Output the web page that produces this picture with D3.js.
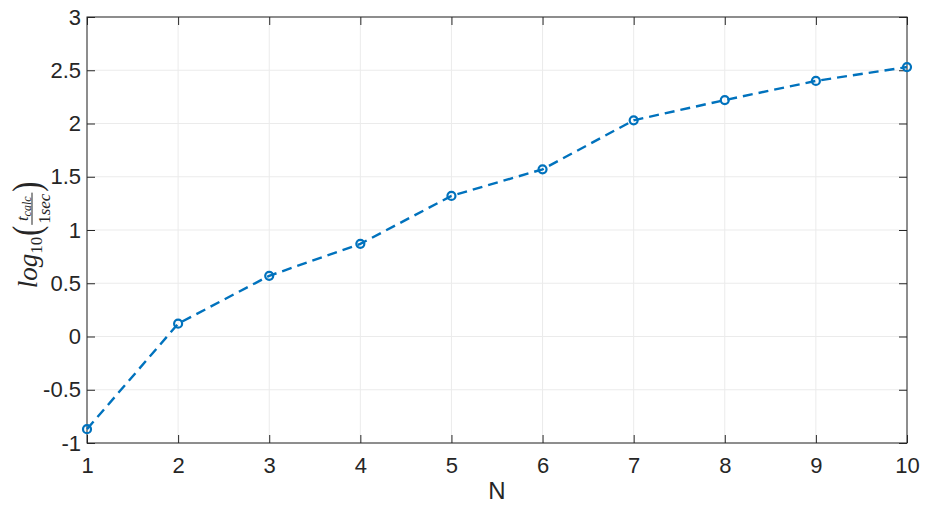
<!DOCTYPE html>
<html><head><meta charset="utf-8">
<script src="https://cdn.jsdelivr.net/npm/d3@7"></script>
<style>body{margin:0;background:#fff}svg{display:block}</style>
</head><body>
<svg id="c" width="940" height="506"></svg>
<script>
const nValues = [1,2,3,4,5,6,7,8,9,10];
const logTime = [-0.87,0.12,0.57,0.87,1.32,1.57,2.03,2.22,2.40,2.53];
const xTicks = [1,2,3,4,5,6,7,8,9,10];
const yTicks = [-1,-0.5,0,0.5,1,1.5,2,2.5,3];
const xLabel = "N";

const svg = d3.select("#c");
const m = {l:87, r:907, t:17, b:443};
const x = d3.scaleLinear().domain([1,10]).range([m.l,m.r]);
const y = d3.scaleLinear().domain([-1,3]).range([m.b,m.t]);
const font = "Helvetica, Arial, 'Liberation Sans', sans-serif";

// grid
const g = svg.append("g");
g.selectAll(".gx").data(xTicks).enter().append("line")
 .attr("x1",d=>x(d)).attr("x2",d=>x(d)).attr("y1",m.t).attr("y2",m.b)
 .attr("stroke","#ebebeb").attr("stroke-width",1);
g.selectAll(".gy").data(yTicks).enter().append("line")
 .attr("y1",d=>y(d)).attr("y2",d=>y(d)).attr("x1",m.l).attr("x2",m.r)
 .attr("stroke","#ebebeb").attr("stroke-width",1);

// axes
const ax = d3.axisBottom(x).tickValues(xTicks).tickSize(-8).tickPadding(14).tickFormat(d3.format("d"));
const ay = d3.axisLeft(y).tickValues(yTicks).tickSize(-8).tickPadding(6).tickFormat(d=>String(d));
const axT = d3.axisTop(x).tickValues(xTicks).tickSize(-8).tickFormat("");
const ayR = d3.axisRight(y).tickValues(yTicks).tickSize(-8).tickFormat("");
function style(sel){
  sel.select(".domain").remove();
  sel.selectAll("line").attr("stroke","#262626").attr("stroke-width",1);
  sel.selectAll("text").attr("fill","#262626").style("font-family",font).style("font-size","22px");
}
svg.append("g").attr("transform",`translate(0,${m.b})`).call(ax).call(style);
svg.append("g").attr("transform",`translate(${m.l},0)`).call(ay).call(style);
svg.append("g").attr("transform",`translate(0,${m.t})`).call(axT).call(style);
svg.append("g").attr("transform",`translate(${m.r},0)`).call(ayR).call(style);
svg.append("rect").attr("x",m.l).attr("y",m.t).attr("width",m.r-m.l).attr("height",m.b-m.t)
 .attr("fill","none").attr("stroke","#262626").attr("stroke-width",1);

// line
const data = nValues.map((n,i)=>({n,v:logTime[i]}));
svg.append("path").datum(data)
 .attr("d",d3.line().x(d=>x(d.n)).y(d=>y(d.v)))
 .attr("fill","none").attr("stroke","#0072BD").attr("stroke-width",2.4).attr("stroke-dasharray","10,6");
svg.selectAll(".pt").data(data).enter().append("circle")
 .attr("cx",d=>x(d.n)).attr("cy",d=>y(d.v)).attr("r",4)
 .attr("fill","none").attr("stroke","#0072BD").attr("stroke-width",2.2);

// x label
svg.append("text").attr("x",(m.l+m.r)/2).attr("y",499).attr("text-anchor","middle")
 .style("font-family",font).style("font-size","24px").attr("fill","#262626").text(xLabel);

// y label (math)
const lab = svg.append("g").attr("transform","translate(37,235) rotate(-90)");
const parts = lab.append("g");
let cx = 0;
function addText(txt,size,dy,opts={}){
  const t = parts.append("text").attr("x",cx).attr("y",dy).text(txt)
    .style("font-family","'Liberation Serif','Times New Roman',serif")
    .style("font-size",size+"px").style("font-style",opts.italic?"italic":"normal").attr("fill","#262626");
  const w = t.node().getComputedTextLength();
  return {t,w};
}
let r = addText("log",27,0,{italic:true}); cx += r.w;
r = addText("10",17,5,{italic:false}); cx += r.w+1;
r = addText("(",30,2); r.t.attr("transform",`translate(${cx},0) scale(1,1.35) translate(${-cx},0)`); cx += r.w;
const fx = cx+1;
const num = parts.append("text").attr("y",-9).style("font-family","'Liberation Serif',serif").attr("fill","#262626");
num.append("tspan").text("t").style("font-style","italic").style("font-size","17px");
num.append("tspan").text("calc").style("font-style","italic").style("font-size","12px").attr("dy",3);
const den = parts.append("text").attr("y",13).style("font-family","'Liberation Serif',serif").style("font-size","17px").attr("fill","#262626");
den.append("tspan").text("1").style("font-style","normal");
den.append("tspan").text("sec").style("font-style","italic");
const wn = num.node().getComputedTextLength(), wd = den.node().getComputedTextLength();
const fw = Math.max(wn,wd)+2;
num.attr("x",fx+(fw-wn)/2); den.attr("x",fx+(fw-wd)/2);
parts.append("line").attr("x1",fx).attr("x2",fx+fw).attr("y1",-5).attr("y2",-5).attr("stroke","#262626").attr("stroke-width",1);
cx = fx+fw+1;
r = addText(")",30,2); r.t.attr("transform",`translate(${cx},0) scale(1,1.35) translate(${-cx},0)`); cx += r.w;
parts.attr("transform",`translate(${-cx/2},0)`);
</script>
</body></html>
